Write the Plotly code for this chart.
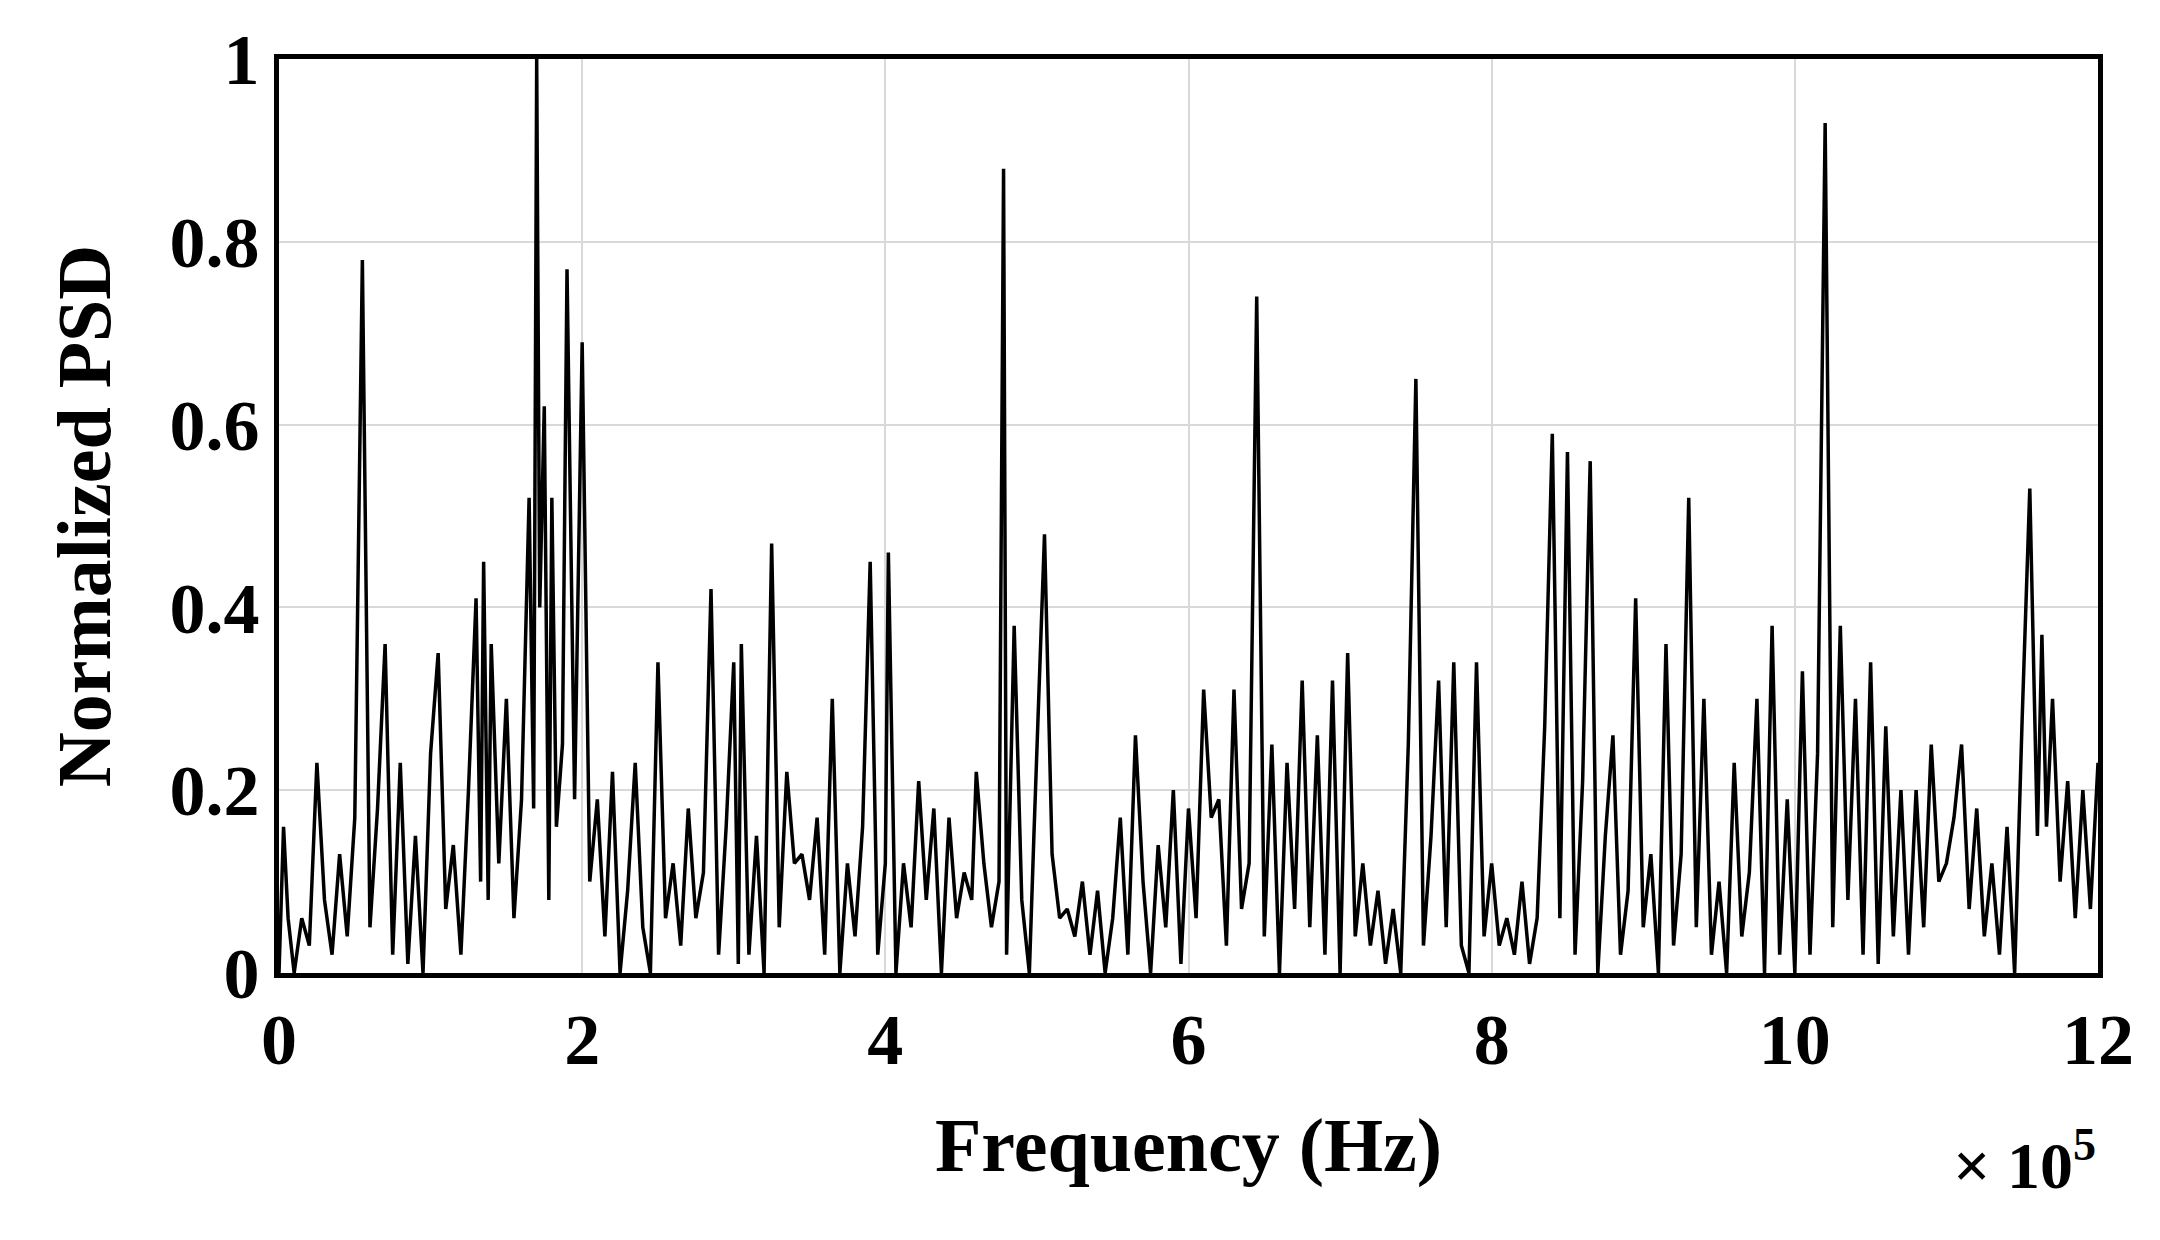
import plotly.graph_objects as go

freq = [0.0,0.03,0.06,0.1,0.15,0.2,0.25,0.3,0.35,0.4,0.45,0.5,0.55,0.6,0.65,0.7,0.75,0.8,0.85,0.9,0.95,1.0,1.05,1.1,1.15,1.2,1.25,1.3,1.33,1.35,1.38,1.4,1.45,1.5,1.55,1.6,1.65,1.68,1.7,1.72,1.75,1.78,1.8,1.83,1.87,1.9,1.95,2.0,2.05,2.1,2.15,2.2,2.25,2.3,2.35,2.4,2.45,2.5,2.55,2.6,2.65,2.7,2.75,2.8,2.85,2.9,2.95,3.0,3.03,3.05,3.1,3.15,3.2,3.25,3.3,3.35,3.4,3.45,3.5,3.55,3.6,3.65,3.7,3.75,3.8,3.85,3.9,3.95,4.0,4.02,4.07,4.12,4.17,4.22,4.27,4.32,4.37,4.42,4.47,4.52,4.57,4.6,4.65,4.7,4.75,4.78,4.8,4.85,4.9,4.95,4.98,5.05,5.1,5.15,5.2,5.25,5.3,5.35,5.4,5.45,5.5,5.55,5.6,5.65,5.7,5.75,5.8,5.85,5.9,5.95,6.0,6.05,6.1,6.15,6.2,6.25,6.3,6.35,6.4,6.45,6.5,6.55,6.6,6.65,6.7,6.75,6.8,6.85,6.9,6.95,7.0,7.05,7.1,7.15,7.2,7.25,7.3,7.35,7.4,7.45,7.5,7.55,7.6,7.65,7.7,7.75,7.8,7.85,7.9,7.95,8.0,8.05,8.1,8.15,8.2,8.25,8.3,8.35,8.4,8.45,8.5,8.55,8.6,8.65,8.7,8.75,8.8,8.85,8.9,8.95,9.0,9.05,9.1,9.15,9.2,9.25,9.3,9.35,9.4,9.45,9.5,9.55,9.6,9.65,9.7,9.75,9.8,9.85,9.9,9.95,10.0,10.05,10.1,10.15,10.2,10.25,10.3,10.35,10.4,10.45,10.5,10.55,10.6,10.65,10.7,10.75,10.8,10.85,10.9,10.95,11.0,11.05,11.1,11.15,11.2,11.25,11.3,11.35,11.4,11.45,11.5,11.55,11.6,11.63,11.66,11.7,11.75,11.8,11.85,11.9,11.95,12.0]
psd = [0.0,0.16,0.06,0.0,0.06,0.03,0.23,0.08,0.02,0.13,0.04,0.17,0.78,0.05,0.18,0.36,0.02,0.23,0.01,0.15,0.0,0.24,0.35,0.07,0.14,0.02,0.2,0.41,0.1,0.45,0.08,0.36,0.12,0.3,0.06,0.19,0.52,0.18,1.0,0.4,0.62,0.08,0.52,0.16,0.25,0.77,0.19,0.69,0.1,0.19,0.04,0.22,0.0,0.09,0.23,0.05,0.0,0.34,0.06,0.12,0.03,0.18,0.06,0.11,0.42,0.02,0.16,0.34,0.01,0.36,0.02,0.15,0.0,0.47,0.05,0.22,0.12,0.13,0.08,0.17,0.02,0.3,0.0,0.12,0.04,0.16,0.45,0.02,0.12,0.46,0.0,0.12,0.05,0.21,0.08,0.18,0.0,0.17,0.06,0.11,0.08,0.22,0.12,0.05,0.1,0.88,0.02,0.38,0.08,0.0,0.15,0.48,0.13,0.06,0.07,0.04,0.1,0.02,0.09,0.0,0.06,0.17,0.02,0.26,0.1,0.0,0.14,0.05,0.2,0.01,0.18,0.06,0.31,0.17,0.19,0.03,0.31,0.07,0.12,0.74,0.04,0.25,0.0,0.23,0.07,0.32,0.05,0.26,0.02,0.32,0.0,0.35,0.04,0.12,0.03,0.09,0.01,0.07,0.0,0.25,0.65,0.03,0.15,0.32,0.05,0.34,0.03,0.0,0.34,0.04,0.12,0.03,0.06,0.02,0.1,0.01,0.06,0.27,0.59,0.06,0.57,0.02,0.21,0.56,0.0,0.15,0.26,0.02,0.09,0.41,0.05,0.13,0.0,0.36,0.03,0.13,0.52,0.05,0.3,0.02,0.1,0.0,0.23,0.04,0.11,0.3,0.0,0.38,0.02,0.19,0.0,0.33,0.02,0.24,0.93,0.05,0.38,0.08,0.3,0.02,0.34,0.01,0.27,0.04,0.2,0.02,0.2,0.05,0.25,0.1,0.12,0.17,0.25,0.07,0.18,0.04,0.12,0.02,0.16,0.0,0.28,0.53,0.15,0.37,0.16,0.3,0.1,0.21,0.06,0.2,0.07,0.23]

xticks = [0, 2, 4, 6, 8, 10, 12]
yticks = [0, 0.2, 0.4, 0.6, 0.8, 1]
ylabels = ["0", "0.2", "0.4", "0.6", "0.8", "1"]

fig = go.Figure(go.Scatter(x=freq, y=psd, mode="lines", line=dict(color="black", width=3.5)))
font = dict(family="Liberation Serif", size=72, color="black")
tfont = dict(family="Liberation Serif", size=76, color="black")
ax = dict(showgrid=True, gridcolor="#d9d9d9", gridwidth=1.5, zeroline=False, showline=True,
          linecolor="black", linewidth=5, mirror=True, ticks="", tickfont=font)
fig.update_xaxes(ax, range=[0, 12], tickvals=xticks, ticktext=["<b>%d</b>" % v for v in xticks],
                 title=dict(text="<b>Frequency (Hz)</b>", font=tfont, standoff=40))
fig.update_yaxes(ax, range=[0, 1], tickvals=yticks, ticktext=["<b>%s</b>" % t for t in ylabels],
                 title=dict(text="<b>Normalized PSD</b>", font=tfont, standoff=35))
fig.add_annotation(text="<b>× 10<sup>5</sup></b>", xref="paper", yref="paper", x=1.0, y=-0.205,
                   showarrow=False, xanchor="right", yanchor="middle", font=dict(family="Liberation Serif", size=66, color="black"))
fig.update_layout(width=2160, height=1240, plot_bgcolor="white", paper_bgcolor="white",
                  margin=dict(l=271, r=70, t=42, b=275), showlegend=False)
fig.write_html("out.html")
